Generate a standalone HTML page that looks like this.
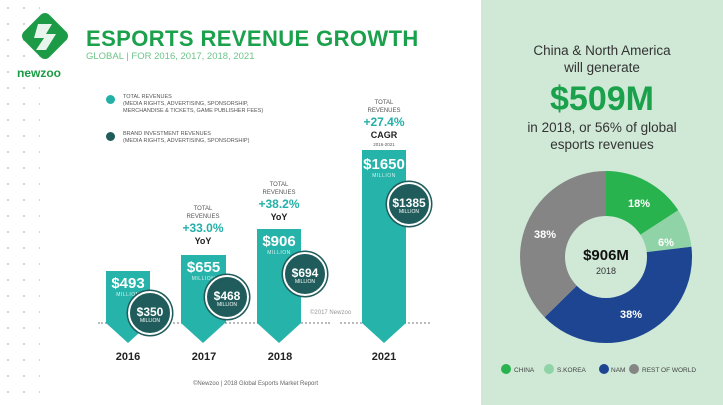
<!DOCTYPE html>
<html><head><style>
body{margin:0;width:723px;height:405px;overflow:hidden;background:#fff;font-family:"Liberation Sans",sans-serif;position:relative}
.a{position:absolute}
.bar{position:absolute;background:#25b3aa}
.bar:after{content:"";position:absolute;left:0;bottom:-20px;border-left:22px solid transparent;border-right:22px solid transparent;border-top:20px solid #25b3aa}
.val{position:absolute;width:100%;text-align:center;color:#fff;font-weight:bold;font-size:15px}
.val small{display:block;font-size:5px;font-weight:normal;color:#d6f3f0;letter-spacing:.5px}
.c{position:absolute;width:40px;height:40px;border-radius:50%;background:#1f5c5b;border:2px solid #fff;box-shadow:0 0 0 1.5px #1f5c5b;color:#fff;text-align:center;font-weight:bold;font-size:12px;line-height:12px}
.c small{display:block;font-size:5px;font-weight:normal;line-height:7px}
.yr{position:absolute;top:351px;font-weight:bold;font-size:11px;color:#222;width:60px;text-align:center}
.note{position:absolute;text-align:center;width:80px;font-size:6px;color:#555;line-height:8px}
.note b{display:block;font-size:12px;color:#22b0a8;line-height:14px}
.note i{display:block;font-style:normal;font-weight:bold;font-size:9px;color:#222;line-height:12px}
</style></head><body>
<div class="a" style="left:0;top:0;width:40px;height:405px;background-image:radial-gradient(#ccc 0.8px,transparent 1.2px);background-size:16px 16px;background-position:0 0"></div>
<svg class="a" style="left:16px;top:12px" width="60" height="56" viewBox="0 0 60 56"><rect x="11" y="6" width="36" height="36" rx="6" transform="rotate(45 29 24)" fill="#1c9a45"/><path d="M22 12 L36 12 L30 22 L40 22 L30 38 L20 38 L28 26 L18 26Z" fill="#fff" opacity=".9"/></svg>
<div class="a" style="left:17px;top:66px;font-weight:bold;font-size:12px;color:#1c9a45">newzoo</div>
<div class="a" style="left:86px;top:26px;font-weight:bold;font-size:22px;color:#1ba04c;letter-spacing:0.4px">ESPORTS REVENUE GROWTH</div>
<div class="a" style="left:86px;top:51px;font-size:9.5px;color:#6dc48a">GLOBAL | FOR 2016, 2017, 2018, 2021</div>
<div class="a" style="left:106px;top:95px;width:9px;height:9px;border-radius:50%;background:#22b0a8"></div>
<div class="a" style="left:123px;top:94px;font-size:5.5px;color:#555;line-height:7px">TOTAL REVENUES<br>(MEDIA RIGHTS, ADVERTISING, SPONSORSHIP,<br>MERCHANDISE &amp; TICKETS, GAME PUBLISHER FEES)</div>
<div class="a" style="left:106px;top:132px;width:9px;height:9px;border-radius:50%;background:#1f5c5b"></div>
<div class="a" style="left:123px;top:131px;font-size:5.5px;color:#555;line-height:7px">BRAND INVESTMENT REVENUES<br>(MEDIA RIGHTS, ADVERTISING, SPONSORSHIP)</div>
<div class="a" style="left:98px;top:322px;width:232px;border-top:2px dotted #bbb"></div>
<div class="a" style="left:340px;top:322px;width:90px;border-top:2px dotted #bbb"></div>
<div class="a" style="left:310px;top:310px;font-size:6px;color:#999">©2017 Newzoo</div>
<div class="bar" style="left:106px;top:271px;width:44px;height:52px"><div class="val" style="top:4px">$493<small>MILLION</small></div></div>
<div class="bar" style="left:181px;top:255px;width:45px;height:68px"><div class="val" style="top:4px">$655<small>MILLION</small></div></div>
<div class="bar" style="left:257px;top:229px;width:44px;height:94px"><div class="val" style="top:4px">$906<small>MILLION</small></div></div>
<div class="bar" style="left:362px;top:150px;width:44px;height:173px"><div class="val" style="top:6px">$1650<small>MILLION</small></div></div>
<div class="c" style="left:128px;top:291px"><div style="margin-top:13px">$350<small>MILLION</small></div></div>
<div class="c" style="left:205px;top:275px"><div style="margin-top:13px">$468<small>MILLION</small></div></div>
<div class="c" style="left:283px;top:252px"><div style="margin-top:13px">$694<small>MILLION</small></div></div>
<div class="c" style="left:387px;top:182px"><div style="margin-top:13px">$1385<small>MILLION</small></div></div>
<div class="note" style="left:163px;top:205px">TOTAL<br>REVENUES<b>+33.0%</b><i>YoY</i></div>
<div class="note" style="left:239px;top:181px">TOTAL<br>REVENUES<b>+38.2%</b><i>YoY</i></div>
<div class="note" style="left:344px;top:99px">TOTAL<br>REVENUES<b>+27.4%</b><i>CAGR</i><span style="font-size:4.5px">2016-2021</span></div>
<div class="yr" style="left:98px">2016</div>
<div class="yr" style="left:174px">2017</div>
<div class="yr" style="left:250px">2018</div>
<div class="yr" style="left:354px">2021</div>
<div class="a" style="left:193px;top:381px;font-size:6px;color:#666">©Newzoo | 2018 Global Esports Market Report</div>
<div class="a" style="left:481px;top:0;width:242px;height:405px;background:#cfe9d6"></div>
<div class="a" style="left:481px;top:42px;width:242px;text-align:center;font-size:13.5px;color:#333;line-height:17px">China &amp; North America<br>will generate</div>
<div class="a" style="left:481px;top:80px;width:242px;text-align:center;font-size:34px;font-weight:bold;color:#1ba04c">$509M</div>
<div class="a" style="left:481px;top:119px;width:242px;text-align:center;font-size:13.5px;color:#333;line-height:17px">in 2018, or 56% of global<br>esports revenues</div>
<svg class="a" style="left:481px;top:0" width="242" height="405">
<g transform="translate(125,257)">
<path d="M0,-86 A86,86 0 0 1 72.2,-46.7 L0,0Z" fill="#29b34e"/>
<path d="M72.2,-46.7 A86,86 0 0 1 85.4,-10.3 L0,0Z" fill="#8fd3a6"/>
<path d="M85.4,-10.3 A86,86 0 0 1 -61.4,60.2 L0,0Z" fill="#1d4592"/>
<path d="M-61.4,60.2 A86,86 0 0 1 0,-86 L0,0Z" fill="#858585"/>
<circle r="41" fill="#cfe9d6"/>
<g fill="#fff" font-weight="bold" font-size="11" text-anchor="middle" font-family="Liberation Sans">
<text x="33" y="-50">18%</text><text x="60" y="-11">6%</text><text x="25" y="61">38%</text><text x="-61" y="-19">38%</text></g>
<text y="3" text-anchor="middle" font-weight="bold" font-size="15" fill="#111" font-family="Liberation Sans">$906M</text>
<text y="17" text-anchor="middle" font-size="9" fill="#333" font-family="Liberation Sans">2018</text>
</g>
<g font-size="6.5" fill="#444" font-family="Liberation Sans">
<circle cx="25" cy="369" r="5" fill="#29b34e"/><text x="33" y="372">CHINA</text>
<circle cx="68" cy="369" r="5" fill="#8fd3a6"/><text x="76" y="372">S.KOREA</text>
<circle cx="123" cy="369" r="5" fill="#1d4592"/><text x="130" y="372">NAM</text>
<circle cx="153" cy="369" r="5" fill="#858585"/><text x="161" y="372">REST OF WORLD</text>
</g></svg>
</body></html>
